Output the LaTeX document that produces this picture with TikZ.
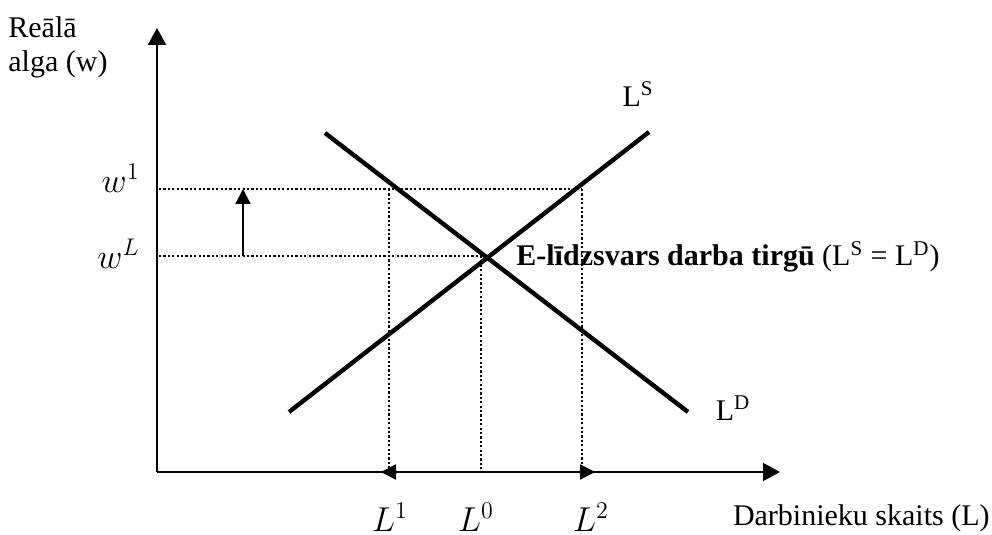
\documentclass[tikz,border=0pt]{standalone}
\usepackage{fontspec}
\setmainfont{Liberation Serif}
\usepackage{tikz}
\usetikzlibrary{arrows.meta}

\begin{document}
\begin{tikzpicture}[x=0.5pt,y=-0.5pt,
    font=\fontsize{15}{17}\selectfont,
    axisline/.style={line width=1pt,-{Triangle[width=9pt,length=8.5pt]}},
    curveline/.style={line width=2.2pt},
    guide/.style={line width=1.2pt,dash pattern=on 1.1pt off 1.1pt},
    shiftarrow/.style={line width=1pt,-{Triangle[width=7.5pt,length=7.5pt]}},
    mathlbl/.style={font=\fontsize{16.5}{18}\selectfont,inner sep=0pt}]
  \useasboundingbox (0,0) rectangle (992,535);
  % axes
  \coordinate (O) at (157,472);
  \coordinate (Ytop) at (157,28);
  \coordinate (Xend) at (780,472);
  \draw[axisline] (O) -- (Ytop);
  \draw[axisline] (O) -- (Xend);
  \node[anchor=north west,align=left,inner sep=0pt] (ylab) at (8,16) {Reālā\\alga (w)};
  \node[anchor=east,inner sep=0pt] (xlab) at (990,518) {Darbinieku skaits (L)};
  % supply and demand
  \coordinate (S1) at (289,412);
  \coordinate (S2) at (649,132);
  \coordinate (D1) at (325,133);
  \coordinate (D2) at (688,412);
  \draw[curveline] (S1) -- (S2);
  \draw[curveline] (D1) -- (D2);
  \node (LS) at (638,94) {L\textsuperscript{S}};
  \node (LD) at (733,408) {L\textsuperscript{D}};
  % guide lines
  \coordinate (W1) at (159,189);
  \coordinate (WL) at (159,256);
  \coordinate (E) at (484,256);
  \coordinate (T1) at (389,189);
  \coordinate (T2) at (582,189);
  \coordinate (F1) at (389,472);
  \coordinate (F0) at (481,472);
  \coordinate (F2) at (582,472);
  \draw[guide] (W1) -- (T2);
  \draw[guide] (WL) -- (E);
  \draw[guide] (T1) -- (F1);
  \draw[guide] (T2) -- (F2);
  \draw[guide] (481,256) -- (F0);
  \node[mathlbl,anchor=east] (w1) at (140,178) {$w^1$};
  \node[mathlbl,anchor=east] (wL) at (140,254) {$w^L$};
  \node (E-text) [anchor=west,inner sep=0pt] at (516,257) {\textbf{E-līdzsvars darba tirgū} (L\textsuperscript{S} = L\textsuperscript{D})};
  % shifts
  \coordinate (up0) at (243,256);
  \coordinate (up1) at (243,189);
  \draw[shiftarrow] (up0) -- (up1);
  \coordinate (A1) at (381,472);
  \coordinate (A2) at (595,472);
  \draw[shiftarrow] (F0) -- (A1);
  \draw[shiftarrow] (F0) -- (A2);
  \node[mathlbl] (L1) at (390,517) {$L^1$};
  \node[mathlbl] (L0) at (476,517) {$L^0$};
  \node[mathlbl] (L2) at (591,517) {$L^2$};
\end{tikzpicture}
\end{document}
